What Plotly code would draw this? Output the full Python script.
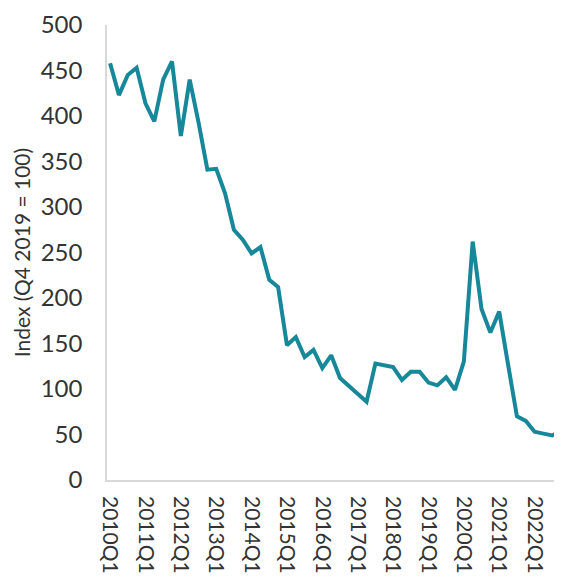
import plotly.graph_objects as go

# Quarterly index, 2010Q1 .. 2022Q4 (Q4 2019 = 100)
quarters = [f"{y}Q{q}" for y in range(2010, 2023) for q in range(1, 5)]
index_values = [458, 423, 445, 453, 414, 394, 440, 460,
                378, 440, 393, 341, 342, 315, 275, 264,
                249, 256, 220, 212, 148, 157, 135, 143,
                123, 137, 112, 103, 95, 86, 128, 126,
                124, 110, 119, 119, 107, 104, 113, 99,
                130, 262, 188, 162, 185, 127, 70, 65,
                53, 51, 49, 54]
tick_labels = [q for q in quarters if q.endswith("Q1")]

font_family = "Lato"
positions = list(range(len(quarters)))

fig = go.Figure()
fig.add_trace(go.Scatter(x=positions, y=index_values, mode="lines",
                         line=dict(color="#17879a", width=4),
                         showlegend=False))

# Only the Q1 of each year gets a label
fig.update_xaxes(range=[-0.35, 51.1], automargin=False,
                 tickvals=[positions[quarters.index(t)] for t in tick_labels],
                 ticktext=tick_labels, tickangle=90,
                 showgrid=False, zeroline=False,
                 showline=True, linecolor="#d9d9d9", linewidth=1.5,
                 ticks="outside", ticklen=10, tickcolor="rgba(0,0,0,0)",
                 tickfont=dict(family=font_family, size=21, color="#333333"))

fig.update_yaxes(range=[0, 500], dtick=50, automargin=False,
                 showgrid=False, zeroline=False,
                 showline=True, linecolor="#d9d9d9", linewidth=1.5,
                 ticks="outside", ticklen=18, tickcolor="rgba(0,0,0,0)",
                 tickfont=dict(family=font_family, size=24, color="#333333"),
                 title=dict(text="Index (Q4 2019 = 100)", standoff=4,
                            font=dict(family=font_family, size=21, color="#333333")))

# The page adds an 8px body margin, so the figure is a bit smaller
fig.update_layout(width=554, height=575,
                  margin=dict(l=99, r=0, t=17, b=103),
                  paper_bgcolor="white", plot_bgcolor="white")

fig.write_html("out.html")
